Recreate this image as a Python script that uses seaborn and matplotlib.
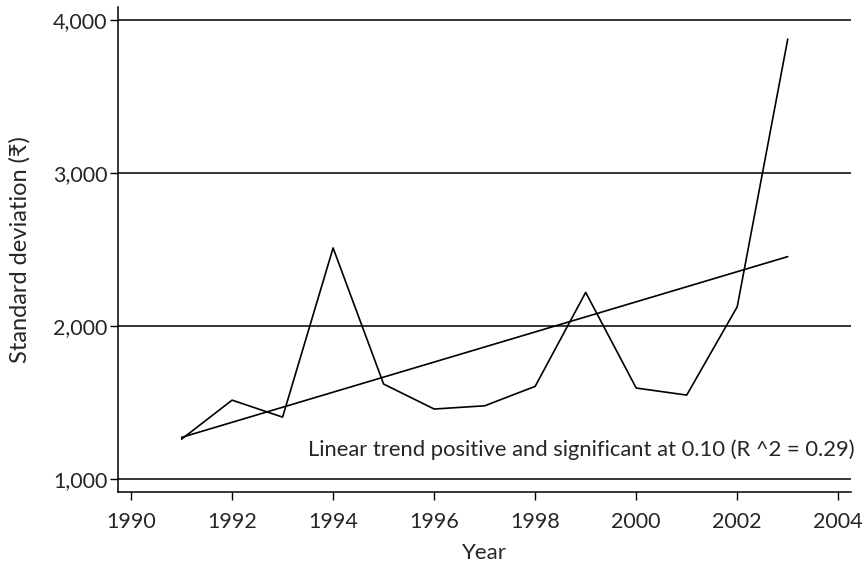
import pandas as pd
import seaborn as sns
import matplotlib.pyplot as plt
from matplotlib.ticker import FuncFormatter

# Datos
years = [1991, 1992, 1993, 1994, 1995, 1996, 1997, 1998, 1999, 2000, 2001, 2002, 2003]
std_dev = [1261, 1516, 1405, 2510, 1621, 1458, 1479, 1606, 2220, 1595, 1549, 2126, 3874]
y_ticks = [1000, 2000, 3000, 4000]
x_ticks = [1990, 1992, 1994, 1996, 1998, 2000, 2002, 2004]
note = "Linear trend positive and significant at 0.10 (R ^2 = 0.29)"

df = pd.DataFrame({"Year": years, "sd": std_dev})

sns.set_style("white")
plt.rcParams['font.family'] = ['Lato', 'DejaVu Sans']

fig = plt.figure(figsize=(8.67, 5.67), dpi=100)
ax = fig.add_axes([0.136, 0.132, 0.846, 0.856])

# Líneas de referencia horizontales
for t in y_ticks:
    ax.axhline(t, color='black', lw=1.1, zorder=1)

sns.lineplot(data=df, x="Year", y="sd", color='black', lw=1.2, ax=ax)
sns.regplot(data=df, x="Year", y="sd", scatter=False, ci=None, truncate=True,
            color='black', line_kws={'lw': 1.2}, ax=ax)

ax.text(1.004, 0.088, note, transform=ax.transAxes, ha='right', va='center', fontsize=15.8)

ax.set_xlim(1989.74, 2004.26)
ax.set_ylim(915, 4085)
ax.set_xticks(x_ticks)
ax.set_yticks(y_ticks)
ax.yaxis.set_major_formatter(FuncFormatter(lambda v, p: f"{int(v):,}"))
ax.set_xlabel("Year", fontsize=16, labelpad=8)
ax.set_ylabel("Standard deviation (₹)", fontsize=17, labelpad=16)
ax.tick_params(axis='both', direction='out', length=6, width=1, color='black',
               labelsize=15.5, left=True, bottom=True)
ax.tick_params(axis='x', pad=8)
ax.tick_params(axis='y', pad=1.5)
sns.despine(ax=ax)
for s in ['left', 'bottom']:
    ax.spines[s].set_color('black')
    ax.spines[s].set_linewidth(1.1)

plt.savefig("out.png", dpi=100)
